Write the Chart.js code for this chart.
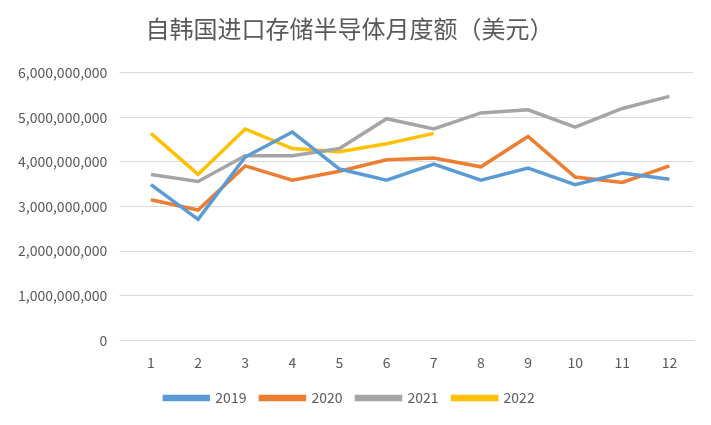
<!DOCTYPE html>
<html>
<head>
<meta charset="utf-8">
<script src="https://cdn.jsdelivr.net/npm/chart.js@4"></script>
<style>
  body { margin: 0; background: #fff; }
  #wrap { width: 711px; height: 425px; }
</style>
</head>
<body>
<div id="wrap"><canvas id="c"></canvas></div>
<script>
const months = ['1','2','3','4','5','6','7','8','9','10','11','12'];
const y2019 = [3.49e9, 2.71e9, 4.11e9, 4.67e9, 3.84e9, 3.59e9, 3.95e9, 3.59e9, 3.86e9, 3.49e9, 3.75e9, 3.61e9];
const y2020 = [3.15e9, 2.92e9, 3.91e9, 3.59e9, 3.79e9, 4.05e9, 4.09e9, 3.89e9, 4.57e9, 3.66e9, 3.54e9, 3.91e9];
const y2021 = [3.72e9, 3.56e9, 4.14e9, 4.14e9, 4.30e9, 4.97e9, 4.74e9, 5.10e9, 5.17e9, 4.78e9, 5.20e9, 5.47e9];
const y2022 = [4.64e9, 3.72e9, 4.74e9, 4.30e9, 4.23e9, 4.41e9, 4.64e9];

const font = "'Noto Sans CJK SC', 'Liberation Sans', sans-serif";

const line = (label, data, color) => ({
  label, data, borderColor: color, backgroundColor: color,
  borderWidth: 3.5, pointRadius: 0, tension: 0
});

new Chart(document.getElementById('c').getContext('2d'), {
  type: 'line',
  data: {
    labels: months,
    datasets: [
      line('2019', y2019, '#5b9bd5'),
      line('2020', y2020, '#ed7d31'),
      line('2021', y2021, '#a5a5a5'),
      line('2022', y2022, '#ffc000')
    ]
  },
  options: {
    responsive: true,
    maintainAspectRatio: false,
    animation: false,
    layout: { padding: { left: 6, right: 18, top: 8, bottom: 10 } },
    plugins: {
      title: {
        display: true, text: '自韩国进口存储半导体月度额（美元）',
        color: '#595959', font: { family: font, size: 24, weight: 'normal' },
        padding: { top: 6, bottom: 30 }
      },
      legend: {
        position: 'bottom',
        labels: { color: '#595959', font: { family: font, size: 14 }, boxWidth: 44, boxHeight: 3, padding: 14 }
      }
    },
    scales: {
      x: {
        offset: true,
        grid: { display: false },
        border: { color: '#d9d9d9' },
        ticks: { color: '#595959', font: { family: font, size: 14 }, padding: 6 }
      },
      y: {
        min: 0, max: 6e9,
        grid: { color: '#d9d9d9' },
        border: { display: false },
        ticks: {
          stepSize: 1e9, color: '#595959', font: { family: font, size: 14 }, padding: 12,
          callback: v => v.toLocaleString('en-US')
        }
      }
    }
  }
});
</script>
</body>
</html>
